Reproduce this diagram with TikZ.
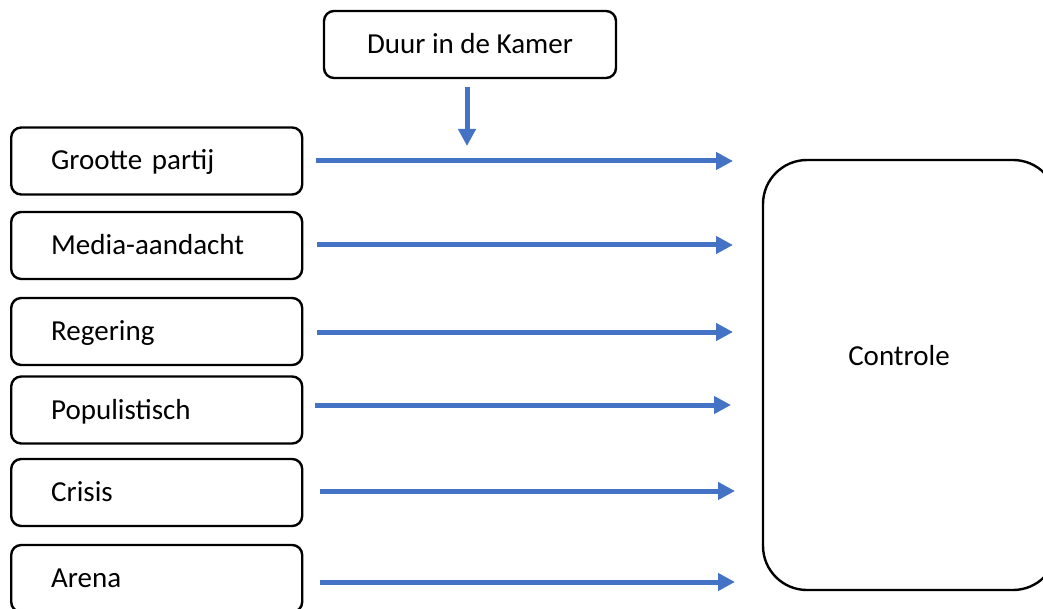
\documentclass[tikz,border=0pt]{standalone}
\usepackage{fontspec}
\setmainfont{Carlito}
\usetikzlibrary{arrows.meta,positioning}
\definecolor{arrowblue}{HTML}{4472C4}
\tikzset{
  leftbox/.style={draw=black, line width=2.4pt, rounded corners=10pt, fill=white,
    anchor=west, minimum width=291pt, minimum height=67pt, inner xsep=40pt,
    text width=211pt, align=left, text height=18pt, text depth=0pt,
    font=\fontsize{29}{35}\selectfont},
  topbox/.style={draw=black, line width=2.4pt, rounded corners=10pt, fill=white,
    minimum width=292pt, minimum height=67pt, text height=18pt, text depth=0pt,
    font=\fontsize{29}{35}\selectfont},
  bigbox/.style={draw=black, line width=2.4pt, rounded corners=44pt,
    minimum width=294pt, minimum height=430pt},
  lbl/.style={font=\fontsize{29}{35}\selectfont, text height=18pt, text depth=0pt},
  flow/.style={draw=arrowblue, line width=5pt, -{Triangle[length=17pt,width=17pt]}}
}
\begin{document}
\begin{tikzpicture}[x=1pt,y=-1pt]
\clip (0,0) rectangle (1043,609);
\fill[white] (0,0) rectangle (1043,609);
% boxes
\node[topbox] (duur) at (470,44.5) {Duur in de Kamer};
\node[leftbox] (g) at (10,161) {Grootte partij};
\node[leftbox] (m) at (10,245.5) {Media-aandacht};
\node[leftbox] (r) at (10,331.5) {Regering};
\node[leftbox] (p) at (10,410) {Populistisch};
\node[leftbox] (c) at (10,492.5) {Crisis};
\node[leftbox] (a) at (10,578.5) {Arena};
\node[bigbox] (ctrl) at (910,375) {};
\node[lbl] (ctrltext) at (899,356) {Controle};
% arrow ends
\coordinate (dS) at (467,87);
\coordinate (dE) at (467,146);
\coordinate (gS) at (316,161);  \coordinate (gE) at (733,161);
\coordinate (mS) at (317,245);  \coordinate (mE) at (733,245);
\coordinate (rS) at (317,332);  \coordinate (rE) at (733,332);
\coordinate (pS) at (315,405);  \coordinate (pE) at (731,405);
\coordinate (cS) at (320,491);  \coordinate (cE) at (735,491);
\coordinate (aS) at (320,582);  \coordinate (aE) at (735,582);
% arrows
\draw[flow] (dS) -- (dE);
\draw[flow] (gS) -- (gE);
\draw[flow] (mS) -- (mE);
\draw[flow] (rS) -- (rE);
\draw[flow] (pS) -- (pE);
\draw[flow] (cS) -- (cE);
\draw[flow] (aS) -- (aE);
\end{tikzpicture}
\end{document}
